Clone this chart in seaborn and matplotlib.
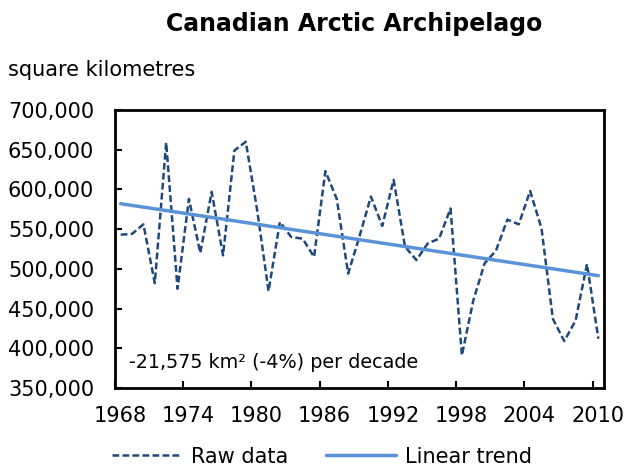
import numpy as np
import pandas as pd
import matplotlib
matplotlib.use("Agg")
import matplotlib.pyplot as plt
import matplotlib.transforms as mtransforms
import seaborn as sns

# Sea ice area values
years = list(range(1968, 2011))
raw_area = [543000, 544000, 556000, 482000, 659000, 475000, 588000, 520000, 597000, 517000,
            649000, 660000, 574000, 472000, 559000, 540000, 538000, 515000, 623000, 588000,
            494000, 541000, 591000, 554000, 612000, 528000, 511000, 532000, 538000, 576000,
            391000, 460000, 507000, 523000, 562000, 556000, 598000, 551000, 437000, 409000,
            435000, 506000, 412000]
trend_years = [1968, 2010]
trend_area = [582000, 491400]
year_ticks = [1968, 1974, 1980, 1986, 1992, 1998, 2004, 2010]

raw_df = pd.DataFrame({"year": np.array(years) + 0.5, "area": raw_area})
trend_df = pd.DataFrame({"year": np.array(trend_years) + 0.5, "area": trend_area})

sns.set_style("ticks")
plt.rcParams["font.family"] = ["DejaVu Sans"]
plt.rcParams["text.color"] = "black"

fig = plt.figure(figsize=(6.27, 4.68), dpi=100)
ax = fig.add_axes([0.1834, 0.171, 0.78, 0.594])

sns.lineplot(data=raw_df, x="year", y="area", ax=ax, color="#1f497d", linewidth=1.8,
             label="Raw data")
ax.lines[-1].set_dashes((2.7, 1.3))
sns.lineplot(data=trend_df, x="year", y="area", ax=ax, color="#5b93d9", linewidth=2.5,
             label="Linear trend")

ax.set_xlim(1968, 2011)
ax.set_ylim(350000, 700000)
ax.set_xticks(year_ticks)
ax.set_xticklabels([str(y) for y in year_ticks])
ax.set_yticks(range(350000, 700001, 50000))
ax.yaxis.set_major_formatter(matplotlib.ticker.FuncFormatter(lambda v, p: f"{int(v):,}"))
ax.tick_params(direction="in", length=5, width=1.5, labelsize=15, colors="black")
ax.tick_params(axis="y", pad=15)
ax.tick_params(axis="x", pad=13)
shift = mtransforms.ScaledTranslation(5 / 100, 0, fig.dpi_scale_trans)
for lab in ax.get_xticklabels():
    lab.set_transform(lab.get_transform() + shift)
for side in ax.spines.values():
    side.set_linewidth(2)
    side.set_color("black")
ax.set_xlabel("")
ax.set_ylabel("")

ax.text(0.028, 0.09, "-21,575 km\u00b2 (-4%) per decade", transform=ax.transAxes,
        fontsize=13.8, va="center", ha="left")

fig.text(0.565, 0.949, "Canadian Arctic Archipelago", fontsize=17, fontweight="bold",
         ha="center", va="center")
fig.text(0.012, 0.85, "square kilometres", fontsize=15, ha="left", va="center")

ax.get_legend().remove()
handles, labels = ax.get_legend_handles_labels()
fig.legend(handles, labels, loc="center", bbox_to_anchor=(0.513, 0.024), ncol=2,
           frameon=False, fontsize=15, handlelength=3.4, columnspacing=1.8, handletextpad=0.4)

fig.savefig("out.png", dpi=100)
